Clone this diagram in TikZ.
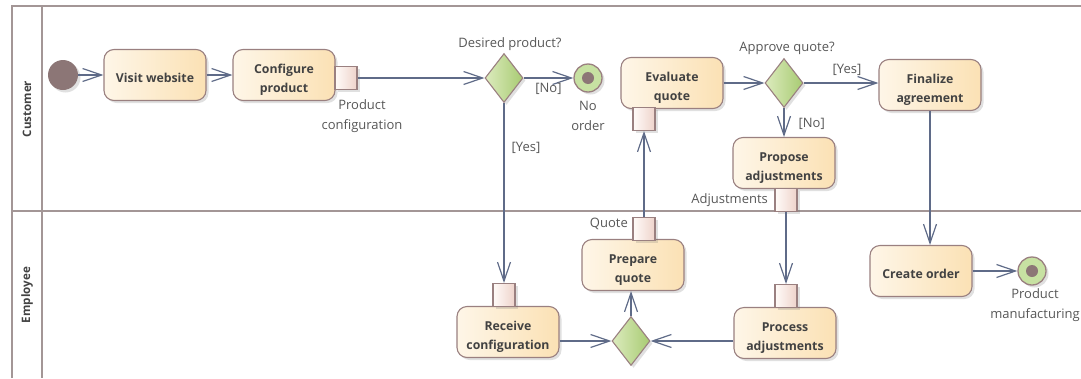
\documentclass[tikz,border=0pt]{standalone}
\usepackage{fontspec}
\setmainfont{Open Sans}
\usetikzlibrary{arrows.meta,shapes.geometric,shadows}

\definecolor{laneline}{HTML}{A39696}
\definecolor{flowc}{HTML}{5F6B88}
\definecolor{actL}{HTML}{FEF6E8}
\definecolor{actR}{HTML}{FBE1B4}
\definecolor{edgec}{HTML}{9A8080}
\definecolor{pinL}{HTML}{FFFBF8}
\definecolor{pinR}{HTML}{EED3CB}
\definecolor{decL}{HTML}{DCEBBE}
\definecolor{decR}{HTML}{A8CB72}
\definecolor{finfill}{HTML}{C7E1A2}
\definecolor{dotc}{HTML}{8C7676}
\definecolor{txtc}{HTML}{424242}
\definecolor{lblc}{HTML}{575757}

\begin{document}
\begin{tikzpicture}[x=1pt,y=-1pt,
  strut/.store in=\actstrut, strut=38pt,
  shade/.style={drop shadow={shadow xshift=2.5pt,shadow yshift=-2.5pt,opacity=0.2,fill=black!60}},
  lanestroke/.style={draw=laneline,line width=1.8pt},
  lanetitle/.style={rotate=90,font=\bfseries\fontsize{11.6}{13}\selectfont,text=txtc},
  action/.style={rectangle,rounded corners=10pt,draw=edgec,line width=1.1pt,
    left color=actL,right color=actR,minimum width=102pt,minimum height=51pt,
    align=center,inner sep=2pt,text=txtc,
    font=\bfseries\fontsize{12.3}{19}\selectfont,shade,
    execute at begin node={\rule{0pt}{\actstrut}}},
  oneline/.style={strut=15.5pt},
  pinbox/.style={rectangle,draw=edgec,line width=1.1pt,left color=pinL,right color=pinR,
    minimum width=22pt,minimum height=23pt,inner sep=0pt,shade},
  decision/.style={diamond,draw=edgec,line width=1.1pt,left color=decL,right color=decR,
    minimum width=38pt,minimum height=49pt,inner sep=0pt,shade},
  initial/.style={circle,fill=dotc,minimum size=30pt,inner sep=0pt,shade},
  final/.style={circle,draw=edgec,line width=1.3pt,fill=finfill,minimum size=28pt,inner sep=0pt,
    shade,path picture={\fill[dotc] (path picture bounding box.center) circle[radius=6pt];}},
  lbl/.style={font=\fontsize{13}{19.5}\selectfont,text=lblc,align=center,inner sep=1pt},
  flow/.style={draw=flowc,line width=1.2pt,-{Straight Barb[length=19pt,width=13pt]}}
]
\useasboundingbox (0,0) rectangle (1081,378);

% swimlane frame
\draw[lanestroke] (12,378) -- (12,6) -- (1081,6);
\draw[lanestroke] (42,6) -- (42,378);
\draw[lanestroke] (12,211) -- (1081,211);
\node[lanetitle] (laneA) at (27,109) {Customer};
\node[lanetitle] (laneB) at (27,295) {Employee};

% actions
\node[initial] (start) at (63,75) {};
\node[action,oneline] (visit) at (155,75) {Visit website};
\node[action] (config) at (284,75) {Configure\\product};
\node[action] (evaluate) at (672,83) {Evaluate\\quote};
\node[action] (finalize) at (930,85) {Finalize\\agreement};
\node[action] (propose) at (784,163) {Propose\\adjustments};
\node[action] (receive) at (508,332) {Receive\\configuration};
\node[action] (prepare) at (633,265) {Prepare\\quote};
\node[action] (process) at (785,333) {Process\\adjustments};
\node[action,oneline] (create) at (921,271) {Create order};

% decisions and final nodes
\node[decision] (desired) at (504,78) {};
\node[decision] (approve) at (784,83) {};
\node[decision] (merge) at (631,341) {};
\node[final] (noorder) at (588,78) {};
\node[final] (made) at (1032,271) {};

% pins
\node[pinbox] (pcpin) at (346,78) {};
\node[pinbox] (evpin) at (644,119) {};
\node[pinbox] (adjpin) at (786,200) {};
\node[pinbox] (recpin) at (504,295) {};
\node[pinbox] (quotepin) at (644,229) {};
\node[pinbox] (procpin) at (786,296) {};

% texts
\node[lbl] (pclbl) at (362,116) {Product\\configuration};
\node[lbl] (desiredlbl) at (510,44) {Desired product?};
\node[lbl] (noorderlbl) at (588,116) {No\\order};
\node[lbl] (approvelbl) at (787,48) {Approve quote?};
\node[lbl, anchor=east] (adjlbl) at (769,200) {Adjustments};
\node[lbl, anchor=east] (quotelbl) at (629,224) {Quote};
\node[lbl] (madelbl) at (1035,305) {Product\\manufacturing};

% flows
\draw[flow] (start) -- (visit);
\draw[flow] (visit) -- (config);
\draw[flow] (pcpin.east) -- (desired.west);
\draw[flow] (desired.east) -- node[lbl,below=4pt,pos=0.5] {[No]} (noorder.west);
\draw[flow] (desired.south) -- node[lbl,right,pos=0.25,xshift=6pt] {[Yes]} (recpin.north);
\draw[flow] (receive.east |- merge.west) -- (merge.west);
\draw[flow] (process.west |- merge.east) -- (merge.east);
\draw[flow] (merge.north) -- (merge.north |- prepare.south);
\draw[flow] (quotepin.north) -- (evpin.south);
\draw[flow] (evaluate.east) -- (approve.west);
\draw[flow] (approve.east) -- node[lbl,above=6pt,pos=0.58] {[Yes]} (finalize.west |- approve.east);
\draw[flow] (approve.south) -- node[lbl,right,pos=0.55,xshift=13pt] {[No]} (propose.north);
\draw[flow] (adjpin.south) -- (procpin.north);
\draw[flow] (finalize.south) -- (finalize.south |- create.north);
\draw[flow] (create.east) -- (made.west);
\end{tikzpicture}
\end{document}
